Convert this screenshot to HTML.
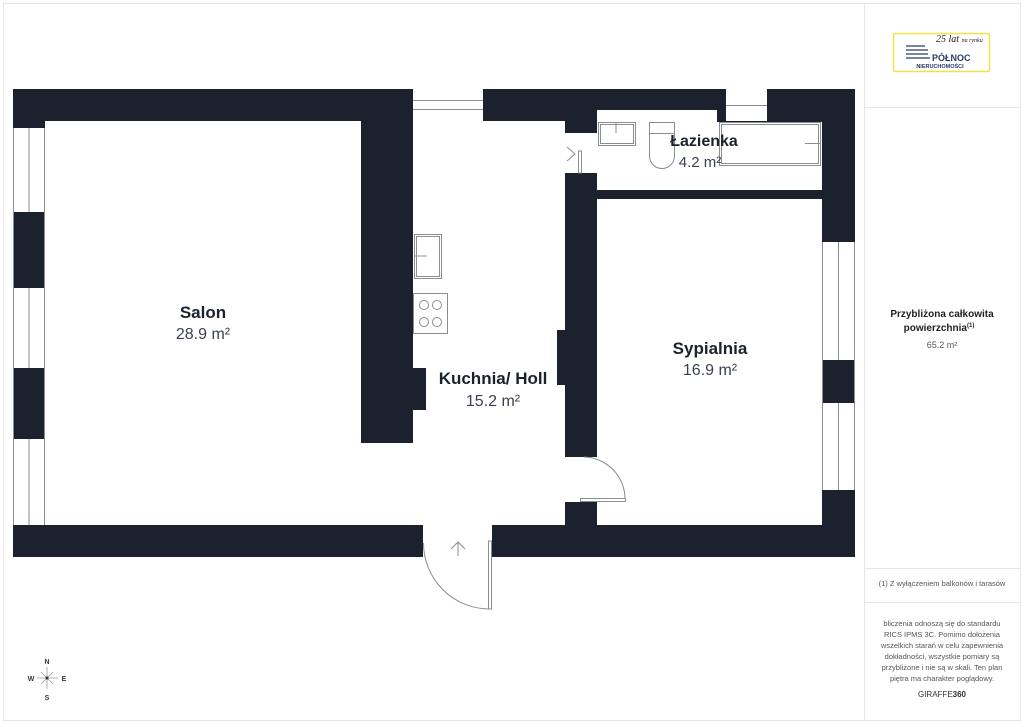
<!DOCTYPE html>
<html><head><meta charset="utf-8"><style>
html,body{margin:0;padding:0;background:#fff;}
body{width:1024px;height:724px;position:relative;overflow:hidden;font-family:"Liberation Sans",sans-serif;}
</style></head><body>
<svg width="1024" height="724" viewBox="0 0 1024 724" xmlns="http://www.w3.org/2000/svg" style="position:absolute;left:0;top:0">
<rect x="3.5" y="3.5" width="1017" height="717" fill="none" stroke="#e6e6e6"/>
<line x1="864.5" y1="4" x2="864.5" y2="720" stroke="#e6e6e6"/>
<line x1="865" y1="107.5" x2="1020" y2="107.5" stroke="#e6e6e6"/>
<line x1="865" y1="568.5" x2="1020" y2="568.5" stroke="#e6e6e6"/>
<line x1="865" y1="602.5" x2="1020" y2="602.5" stroke="#e6e6e6"/>
<g fill="#1b222d">
<rect x="13" y="89" width="842" height="468"/>
</g>
<g fill="#fff">
<!-- salon -->
<rect x="45" y="121" width="316" height="404"/>
<rect x="361" y="443" width="204" height="82"/>
<!-- kitchen -->
<rect x="413" y="121" width="152" height="404"/>
<rect x="413" y="89" width="70" height="32"/>
<!-- bath door opening -->
<rect x="565" y="133" width="32" height="40"/>
<!-- bathroom -->
<rect x="597" y="110" width="120" height="80"/>
<rect x="717" y="122" width="105" height="68"/>
<rect x="726" y="89" width="41" height="32"/>
<!-- bedroom -->
<rect x="597" y="199" width="225" height="326"/>
<rect x="565" y="457" width="32" height="45"/>
<!-- entry -->
<rect x="423" y="525" width="69" height="33"/>
<!-- windows -->
<rect x="13" y="128" width="32" height="84"/>
<rect x="13" y="288" width="32" height="80"/>
<rect x="13" y="439" width="32" height="86"/>
<rect x="822" y="242" width="33" height="118"/>
<rect x="822" y="403" width="33" height="87"/>
</g>
<g fill="#1b222d">
<rect x="413" y="368" width="13" height="42"/>
<rect x="557" y="330" width="8" height="55"/>
</g>
<g stroke="#8a8d92" stroke-width="1" fill="none">
<line x1="29" y1="128" x2="29" y2="212"/><line x1="29" y1="288" x2="29" y2="368"/><line x1="29" y1="439" x2="29" y2="525"/>
<line x1="13.5" y1="128" x2="13.5" y2="525"/><line x1="44.5" y1="128" x2="44.5" y2="525"/>
<line x1="838.5" y1="242" x2="838.5" y2="360"/><line x1="838.5" y1="403" x2="838.5" y2="490"/>
<line x1="822.5" y1="242" x2="822.5" y2="490"/><line x1="854.5" y1="242" x2="854.5" y2="490"/>
<line x1="413" y1="100.5" x2="483" y2="100.5"/><line x1="413" y1="109.5" x2="483" y2="109.5"/>
<line x1="726" y1="105.5" x2="767" y2="105.5"/>
<rect x="414.5" y="234.5" width="27" height="44"/><rect x="416.5" y="236.5" width="23" height="40"/>
<line x1="414" y1="256" x2="427" y2="256"/>
<rect x="413.5" y="293.5" width="34" height="40"/>
<circle cx="424" cy="305" r="4.5"/><circle cx="437" cy="305" r="4.5"/>
<circle cx="424" cy="322" r="4.5"/><circle cx="437" cy="322" r="4.5"/>
<rect x="598.5" y="122.5" width="37" height="23"/><rect x="600.5" y="124.5" width="33" height="19"/>
<line x1="616" y1="122" x2="616" y2="133"/>
<path d="M649.5 122.5 H674.5 V156 A12.5 12.5 0 0 1 649.5 156 Z"/><line x1="649" y1="133.5" x2="675" y2="133.5"/>
<rect x="719.5" y="122.5" width="101" height="43"/><rect x="721.5" y="124.5" width="97" height="39"/>
<line x1="805" y1="143.5" x2="821" y2="143.5"/>
<path d="M567 147 L575 154 L567 161"/><rect x="578.5" y="151" width="3" height="22"/>
<path d="M584 457 A42 42 0 0 1 625 499"/><rect x="580.5" y="498.5" width="45" height="3"/>
<path d="M423.5 543 A66 66 0 0 0 489 609"/><rect x="488.5" y="541" width="3" height="68"/>
<line x1="458" y1="556" x2="458" y2="542"/><path d="M451 549 L458 542 L465 549"/>
</g>
<g font-family="Liberation Sans, sans-serif" text-anchor="middle">
<text x="203" y="318" font-size="17" font-weight="bold" fill="#1b222d">Salon</text>
<text x="203" y="339" font-size="16" fill="#3a4250">28.9 m²</text>
<text x="493" y="384" font-size="17" font-weight="bold" fill="#1b222d">Kuchnia/ Holl</text>
<text x="493" y="406" font-size="16" fill="#3a4250">15.2 m²</text>
<text x="710" y="354" font-size="17" font-weight="bold" fill="#1b222d">Sypialnia</text>
<text x="710" y="375" font-size="16" fill="#3a4250">16.9 m²</text>
<text x="704" y="146" font-size="16" font-weight="bold" fill="#1b222d">Łazienka</text>
<text x="700" y="167" font-size="15" fill="#3a4250">4.2 m²</text>
<text x="942" y="317" font-size="10" font-weight="bold" fill="#222">Przybliżona całkowita</text>
<text x="939" y="331" font-size="10" font-weight="bold" fill="#222">powierzchnia<tspan font-size="6" dy="-4">(1)</tspan></text>
<text x="942" y="348" font-size="9" fill="#555">65.2 m²</text>
<text x="942" y="586" font-size="7.5" fill="#555">(1) Z wyłączeniem balkonów i tarasów</text>
<g font-size="7.5" fill="#555">
<text x="942" y="626">bliczenia odnoszą się do standardu</text>
<text x="942" y="637">RICS IPMS 3C. Pomimo dołożenia</text>
<text x="942" y="648">wszelkich starań w celu zapewnienia</text>
<text x="942" y="659">dokładności, wszystkie pomiary są</text>
<text x="942" y="670">przybliżone i nie są w skali. Ten plan</text>
<text x="942" y="681">piętra ma charakter poglądowy.</text>
</g>
<text x="942" y="697" font-size="8" fill="#333">GIRAFFE<tspan font-weight="bold">360</tspan></text>
<g font-size="7" font-weight="bold" fill="#333">
<text x="47" y="664">N</text><text x="47" y="700">S</text><text x="31" y="681">W</text><text x="64" y="681">E</text>
</g>
</g>
<g stroke="#999" stroke-width="0.8">
<line x1="37" y1="678" x2="58" y2="678"/><line x1="47" y1="667" x2="47" y2="689"/>
<line x1="41" y1="672" x2="53" y2="684"/><line x1="53" y1="672" x2="41" y2="684"/>
</g>
<circle cx="47" cy="678" r="1.5" fill="#333"/>
<rect x="893.5" y="33.5" width="96" height="38" rx="2" fill="#fff" stroke="#f2e24a" stroke-width="1.5"/>
<g stroke="#2a3a6a" stroke-width="1.2">
<line x1="906" y1="46" x2="925" y2="46"/><line x1="906" y1="50" x2="928" y2="50"/><line x1="906" y1="54" x2="928" y2="54"/><line x1="906" y1="58" x2="930" y2="58"/>
</g>
<text x="936" y="42" font-family="Liberation Serif, serif" font-style="italic" font-size="10" fill="#222">25 lat <tspan font-size="6">na rynku</tspan></text>
<text x="932" y="61" font-size="9" font-weight="bold" fill="#2a3a6a">PÓŁNOC</text>
<text x="940" y="68" font-size="5.5" font-weight="bold" fill="#2a3a6a" text-anchor="middle">NIERUCHOMOŚCI</text>
</svg>
</body></html>
